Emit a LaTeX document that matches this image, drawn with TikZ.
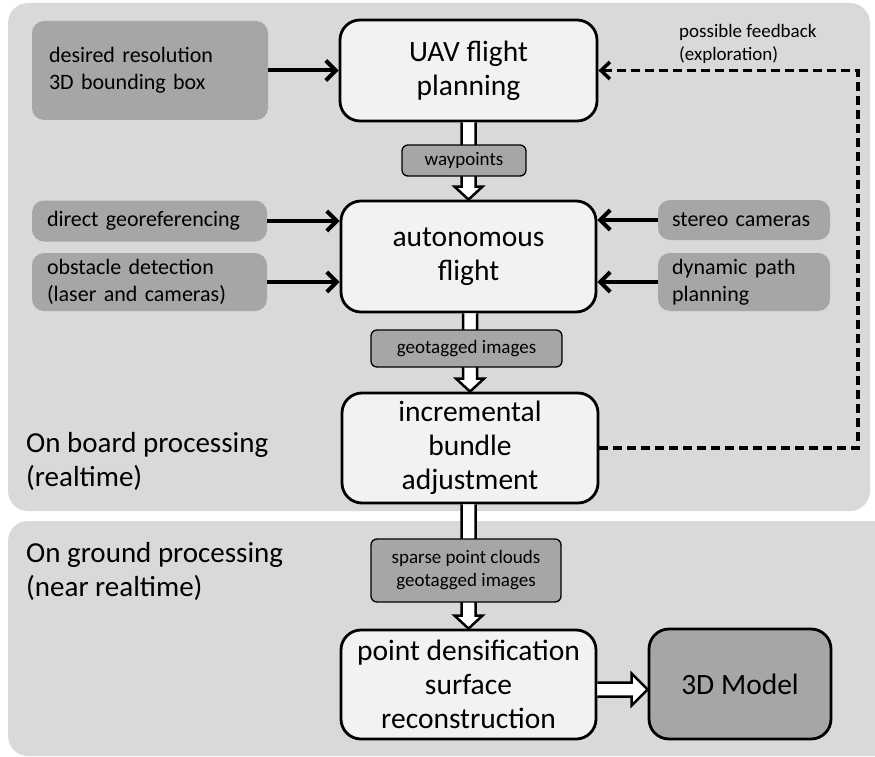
\documentclass[tikz,border=0pt]{standalone}
\usepackage{fontspec}
\setmainfont{Carlito}
\usetikzlibrary{arrows.meta,calc}

\definecolor{panelgray}{HTML}{D9D9D9}
\definecolor{boxgray}{HTML}{A6A6A6}
\definecolor{stagewhite}{HTML}{F2F2F2}

\newcommand{\stagefont}{\fontsize{29.5}{34}\selectfont}
\newcommand{\areafont}{\fontsize{29}{34}\selectfont}
\newcommand{\sourcefont}{\fontsize{22}{27}\selectfont}
\newcommand{\tagfont}{\fontsize{19}{23}\selectfont}

% hollow block arrow from the bottom of #1 to the top of #2
\newcommand{\hollowdown}[2]{%
  \draw[hollow] let \p1=(#1.south), \p2=(#2.north) in
    (\x2-7pt,\y1) -- (\x2-7pt,\y2+13pt) -- (\x2-14pt,\y2+13pt) -- (\x2,\y2)
    -- (\x2+14pt,\y2+13pt) -- (\x2+7pt,\y2+13pt) -- (\x2+7pt,\y1);}

\begin{document}
\begin{tikzpicture}[x=1pt, y=-1pt,
    panel/.style ={fill=panelgray, rounded corners=20pt},
    stage/.style ={draw, line width=2.8pt, fill=stagewhite, rounded corners=20pt,
                   align=center, font=\stagefont, inner sep=0pt},
    source/.style ={fill=boxgray, rounded corners=12pt, align=left,
                    font=\sourcefont, inner ysep=0pt},
    tag/.style ={draw, line width=1.3pt, fill=boxgray, rounded corners=6pt,
                 align=center, font=\tagfont, inner sep=0pt},
    caption/.style ={align=left, inner sep=0pt, anchor=west},
    feed/.style ={line width=4pt, -{Straight Barb[length=10pt,width=20pt]}},
    feedback/.style ={line width=3.5pt, dash pattern=on 9pt off 5pt,
                      -{Straight Barb[length=9pt,width=17pt]}},
    hollow/.style ={draw, line width=2.5pt, fill=white, line join=miter}]
   \useasboundingbox (0,0) rectangle (875,757);

   % processing areas
   \fill[panel] (8,3) rectangle (870,511);
   \fill[panel] (8,521) rectangle (895,756);
   \node[caption, font=\areafont] (onboard) at (26,461) {On board processing\\(realtime)};
   \node[caption, font=\areafont] (onground) at (26,571) {On ground processing\\(near realtime)};
   \node[caption, font=\tagfont] (note) at (679,44) {possible feedback\\(exploration)};

   % main stages
   \node[stage, minimum width=257pt, minimum height=101pt] (uav) at (468.5,70.5) {UAV flight\\planning};
   \node[stage, minimum width=255pt, minimum height=111pt] (auto) at (468.5,256.5) {autonomous\\flight};
   \node[stage, minimum width=256pt, minimum height=110pt] (bundle) at (470,448) {incremental\\bundle\\adjustment};
   \node[stage, minimum width=255pt, minimum height=109pt] (dense) at (468.5,684.5) {point densification\\surface\\reconstruction};
   \node[stage, fill=boxgray, minimum width=182pt, minimum height=110pt] (model) at (740,684) {3D Model};

   % inputs
   \node[source, inner xsep=17pt, text width=202pt, minimum height=99pt] (res) at (150,70.5) {desired resolution\\3D bounding box};
   \node[source, inner xsep=15pt, text width=205pt, minimum height=41pt] (geo) at (149.5,221) {direct georeferencing};
   \node[source, inner xsep=15pt, text width=205pt, minimum height=58pt] (obst) at (149.5,282) {obstacle detection\\(laser and cameras)};
   \node[source, inner xsep=14pt, text width=144pt, minimum height=40pt] (stereo) at (744,220) {stereo cameras};
   \node[source, inner xsep=14pt, text width=144pt, minimum height=58pt] (dyn) at (744,282) {dynamic path\\planning};

   % data flow
   \hollowdown{uav}{auto}
   \hollowdown{auto}{bundle}
   \hollowdown{bundle}{dense}
   \draw[hollow] let \p1=(dense.east), \p2=(model.west) in
     (\x1,\y1+2pt) -- (\x2-16pt,\y1+2pt) -- (\x2-16pt,\y1+11pt) -- (\x2,\y1-5pt)
     -- (\x2-16pt,\y1-21pt) -- (\x2-16pt,\y1-12pt) -- (\x1,\y1-12pt);
   \node[tag, minimum width=124pt, minimum height=31pt] (wp) at (464,160.5) {waypoints};
   \node[tag, minimum width=191pt, minimum height=37pt] (images) at (466.5,348.5) {geotagged images};
   \node[tag, minimum width=190pt, minimum height=63pt] (sparse) at (466,570.5) {sparse point clouds\\geotagged images};

   \draw[feed] (res.east) to (uav.west);
   \draw[feed] (geo.east) to (geo.east -| auto.west);
   \draw[feed] (obst.east) to (obst.east -| auto.west);
   \draw[feed] (stereo.west) to (stereo.west -| auto.east);
   \draw[feed] (dyn.west) to (dyn.west -| auto.east);

   \coordinate (fbcorner) at (858,70.5);
   \draw[feedback] (bundle.east) -| (fbcorner) -- (uav.east);
 \end{tikzpicture}
\end{document}
